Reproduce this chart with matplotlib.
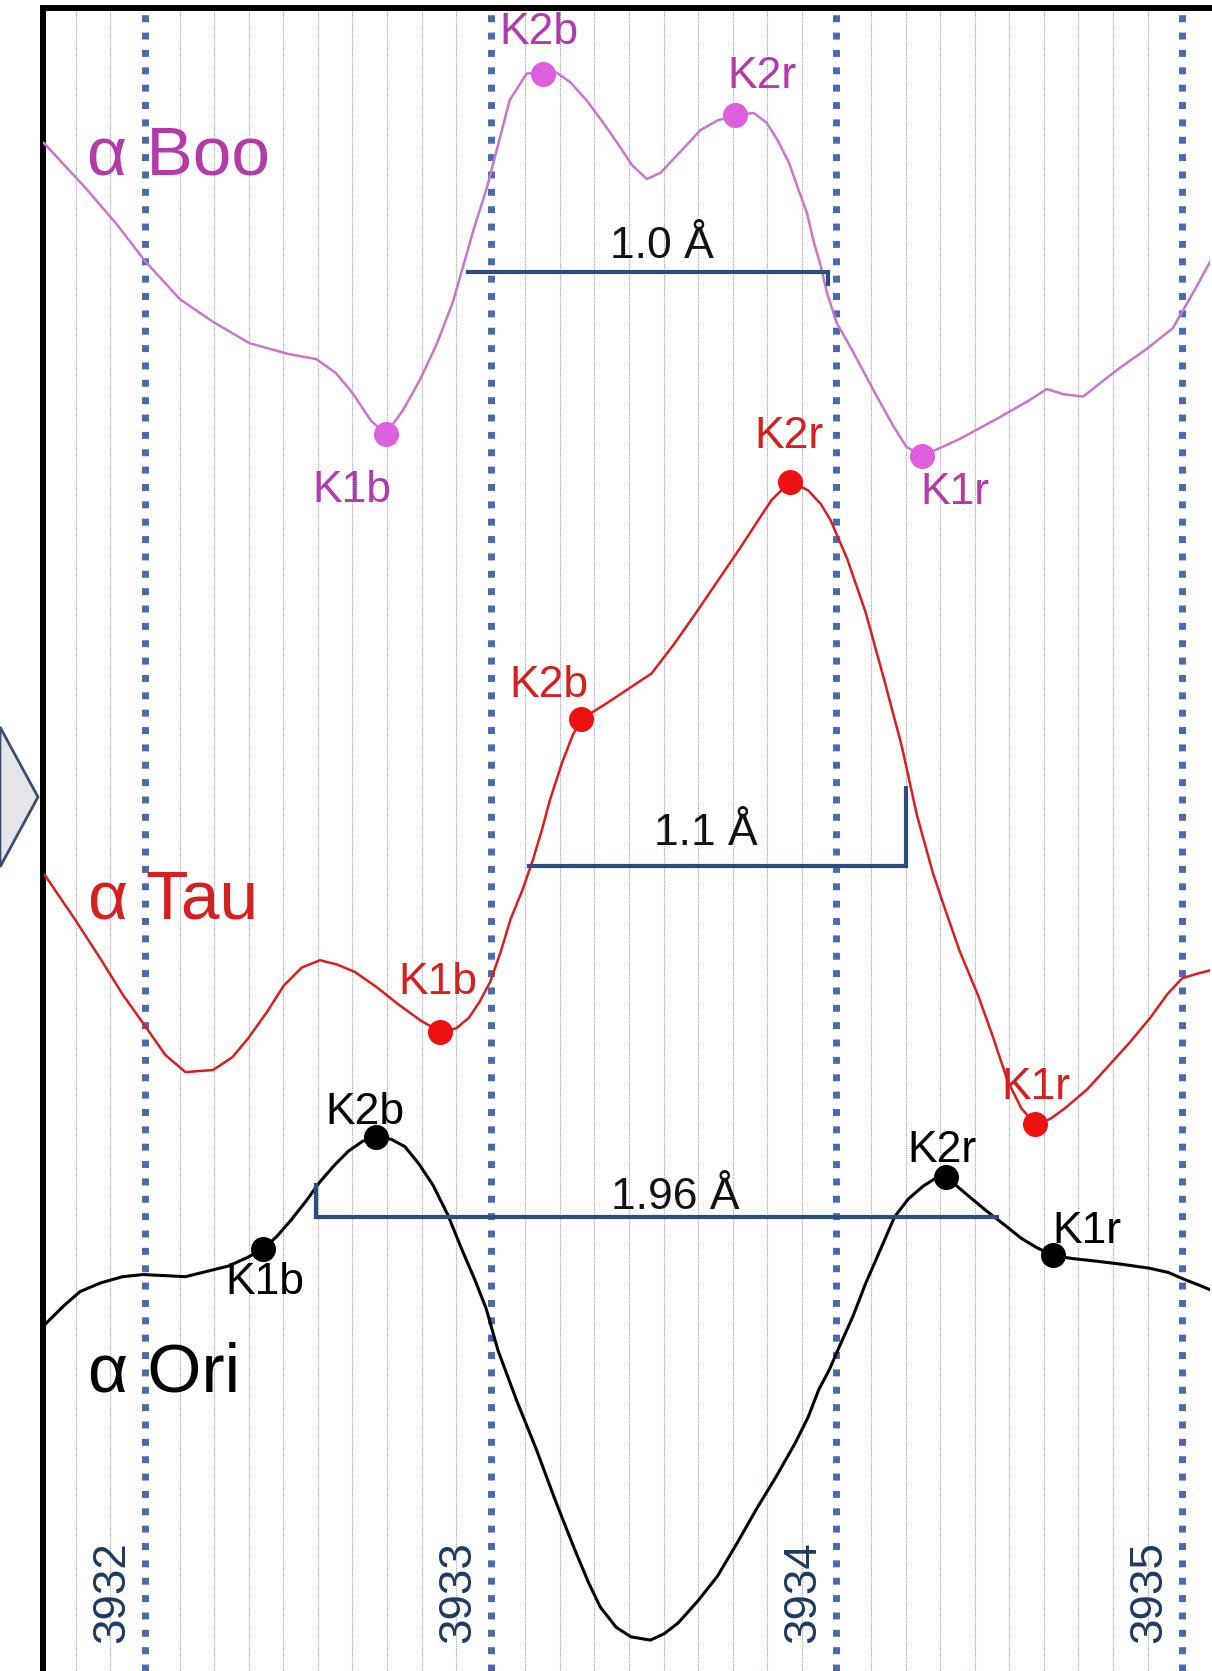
import numpy as np
import matplotlib.pyplot as plt
from matplotlib.patches import Polygon

plt.rcParams['font.family'] = ['Liberation Sans', 'DejaVu Sans']

# Ca II K line profiles, wavelength in Angstrom, flux in arbitrary (stacked) units
boo_wl = [3931.707, 3931.827, 3931.920, 3932.000, 3932.102, 3932.197, 3932.302, 3932.413,
          3932.496, 3932.552, 3932.601, 3932.654, 3932.697, 3932.746, 3932.796, 3932.845,
          3932.891, 3932.950, 3932.990, 3933.018, 3933.055, 3933.104, 3933.150, 3933.190,
          3933.230, 3933.277, 3933.323, 3933.366, 3933.409, 3933.452, 3933.492, 3933.526,
          3933.570, 3933.607, 3933.656, 3933.708, 3933.761, 3933.798, 3933.829, 3933.862,
          3933.887, 3933.915, 3933.933, 3933.955, 3933.973, 3934.001, 3934.048, 3934.112,
          3934.165, 3934.202, 3934.248, 3934.356, 3934.464, 3934.556, 3934.609, 3934.658,
          3934.714, 3934.812, 3934.895, 3934.973, 3935.003, 3935.040, 3935.087]
boo_flux = [143.4, 139.2, 135.7, 132.3, 128.7, 126.6, 124.6, 123.6, 123.1, 121.8,
            119.9, 117.3, 116.1, 118.3, 121.2, 124.6, 128.5, 135.2, 139.3, 142.8,
            147.4, 149.9, 150.0, 150.0, 149.1, 147.4, 145.4, 143.4, 141.3, 140.0,
            140.6, 141.8, 143.3, 144.6, 145.5, 146.0, 146.2, 145.3, 143.7, 141.6,
            139.3, 136.8, 134.3, 131.8, 129.3, 126.5, 123.8, 119.9, 116.8, 114.9,
            114.0, 115.6, 117.5, 119.2, 120.3, 119.8, 119.6, 122.1, 124.0, 126.0,
            127.7, 129.8, 132.6]

tau_wl = [3931.710, 3931.796, 3931.870, 3931.935, 3932.003, 3932.059, 3932.117, 3932.197,
          3932.253, 3932.299, 3932.352, 3932.401, 3932.453, 3932.506, 3932.555, 3932.607,
          3932.669, 3932.731, 3932.799, 3932.854, 3932.900, 3932.937, 3932.968, 3932.999,
          3933.030, 3933.058, 3933.092, 3933.122, 3933.147, 3933.172, 3933.206, 3933.237,
          3933.261, 3933.335, 3933.400, 3933.465, 3933.529, 3933.594, 3933.659, 3933.724,
          3933.770, 3933.813, 3933.866, 3933.918, 3933.955, 3933.983, 3934.032, 3934.085,
          3934.140, 3934.189, 3934.233, 3934.279, 3934.310, 3934.356, 3934.411, 3934.455,
          3934.495, 3934.535, 3934.575, 3934.618, 3934.661, 3934.726, 3934.785, 3934.849,
          3934.908, 3934.957, 3935.000, 3935.040, 3935.087]
tau_flux = [74.7, 70.6, 66.9, 63.5, 60.4, 57.8, 56.2, 56.4, 57.6, 59.4,
            61.8, 64.3, 66.0, 66.7, 66.3, 65.6, 64.2, 62.6, 61.0, 60.0,
            60.3, 61.3, 62.8, 64.7, 67.6, 70.6, 73.3, 76.1, 78.8, 81.8,
            85.2, 87.8, 89.3, 90.8, 92.2, 93.6, 96.3, 99.3, 102.4, 105.5,
            107.8, 109.9, 111.6, 110.8, 109.5, 108.0, 104.3, 99.3, 92.8, 86.8,
            80.3, 74.9, 71.9, 67.6, 63.3, 59.3, 55.4, 52.8, 51.3, 51.8,
            52.8, 54.6, 56.7, 59.0, 61.3, 63.5, 65.0, 65.4, 65.8]

ori_wl = [3931.710, 3931.766, 3931.812, 3931.870, 3931.935, 3931.994, 3932.059, 3932.117,
          3932.179, 3932.241, 3932.296, 3932.342, 3932.382, 3932.422, 3932.466, 3932.506,
          3932.549, 3932.589, 3932.629, 3932.669, 3932.712, 3932.752, 3932.792, 3932.833,
          3932.876, 3932.916, 3932.953, 3932.987, 3933.021, 3933.076, 3933.132, 3933.187,
          3933.243, 3933.283, 3933.317, 3933.363, 3933.406, 3933.462, 3933.502, 3933.542,
          3933.600, 3933.656, 3933.711, 3933.767, 3933.825, 3933.881, 3933.918, 3933.949,
          3933.980, 3934.004, 3934.048, 3934.085, 3934.128, 3934.168, 3934.208, 3934.251,
          3934.285, 3934.316, 3934.374, 3934.433, 3934.485, 3934.535, 3934.581, 3934.627,
          3934.683, 3934.741, 3934.818, 3934.905, 3934.960, 3935.010, 3935.050, 3935.087]
ori_flux = [32.5, 34.3, 35.6, 36.4, 37.0, 37.2, 37.1, 37.0, 37.5, 38.0,
            38.8, 39.6, 40.8, 42.3, 44.1, 45.9, 47.5, 48.8, 49.7, 50.1,
            49.9, 49.2, 47.6, 45.6, 42.8, 39.6, 36.8, 34.0, 30.1, 25.3,
            20.8, 16.0, 11.4, 8.3, 6.0, 4.1, 3.2, 2.9, 3.5, 4.5,
            6.6, 8.9, 11.9, 15.1, 18.2, 21.4, 23.8, 26.4, 28.3, 30.1,
            33.3, 36.4, 39.6, 42.6, 44.3, 45.5, 46.2, 46.4, 44.8, 43.2,
            41.9, 40.6, 39.7, 39.0, 38.7, 38.5, 38.2, 37.8, 37.4, 36.7,
            36.2, 35.7]

# marked features, in order K1b, K2b, K2r, K1r
feat_names = ['K1b', 'K2b', 'K2r', 'K1r']
boo_feat_wl = [3932.697, 3933.150, 3933.708, 3934.248]
boo_feat_flux = [116.1, 149.9, 146.0, 114.0]
boo_lab_wl = [3932.598, 3933.141, 3933.786, 3934.344]
boo_lab_flux = [110.8, 153.8, 149.6, 110.6]

tau_feat_wl = [3932.854, 3933.261, 3933.866, 3934.575]
tau_feat_flux = [60.0, 89.3, 111.6, 51.3]
tau_lab_wl = [3932.848, 3933.169, 3933.863, 3934.578]
tau_lab_flux = [64.6, 92.5, 115.8, 54.8]

ori_feat_wl = [3932.342, 3932.669, 3934.316, 3934.627]
ori_feat_flux = [39.6, 50.1, 46.4, 39.0]
ori_lab_wl = [3932.348, 3932.635, 3934.304, 3934.726]
ori_lab_flux = [36.5, 52.4, 48.8, 41.2]

# separation bars
bar_labels = ['1.0 Å', '1.1 Å', '1.96 Å']
bar_wl = [[3932.934, 3933.977, 3933.977],
          [3933.110, 3934.202, 3934.202],
          [3932.496, 3932.496, 3934.464]]
bar_flux = [[131.3, 131.3, 130.2],
            [75.5, 75.5, 82.9],
            [45.6, 42.6, 42.6]]
bar_lab_wl = [3933.496, 3933.622, 3933.533]
bar_lab_flux = [132.6, 77.5, 43.4]

wl_ticks = [3932, 3933, 3934, 3935]
wl_ticklabels = ['3932', '3933', '3934', '3935']

fig = plt.figure(figsize=(12.12, 16.71), dpi=100)
ax = fig.add_axes([0.03589, 0.0, 0.96205, 0.99551])
ax.set_xlim(3931.7064, 3935.0793)
ax.set_ylim(0, 156.1)

# grid: thin dotted every 0.1 A, thick blue dotted at whole Angstroms
ax.set_xticks(wl_ticks)
ax.set_xticks(np.arange(3931.8, 3935.05, 0.1), minor=True)
ax.set_yticks([])
ax.tick_params(which='both', length=0, labelbottom=False)
ax.set_axisbelow(True)
ax.grid(which='minor', axis='x', color='#95a0b4', lw=0.8, linestyle=(0, (1, 1)))
ax.grid(which='major', axis='x', color='#4a6aad', lw=5, linestyle=(0, (1, 1.5)))

for s in ['right', 'bottom']:
    ax.spines[s].set_visible(False)
for s in ['left', 'top']:
    ax.spines[s].set_linewidth(4.3)
    ax.spines[s].set_color('black')

stars = [
    (boo_wl, boo_flux, boo_feat_wl, boo_feat_flux, boo_lab_wl, boo_lab_flux,
     '#c776c9', '#dd5fdd', '#b23aa9', 1.8),
    (tau_wl, tau_flux, tau_feat_wl, tau_feat_flux, tau_lab_wl, tau_lab_flux,
     '#d81e1e', '#ee1111', '#d42020', 1.8),
    (ori_wl, ori_flux, ori_feat_wl, ori_feat_flux, ori_lab_wl, ori_lab_flux,
     'black', 'black', 'black', 2.2),
]
for wl, fl, fwl, ffl, lwl, lfl, lc, mc, tc, lw in stars:
    ax.plot(wl, fl, color=lc, lw=lw, zorder=3)
    ax.plot(fwl, ffl, 'o', color=mc, ms=17, zorder=4)
    for name, x, y in zip(feat_names, lwl, lfl):
        ax.text(x, y, name, color=tc, fontsize=32, ha='center', va='center', zorder=5)

ax.text(3931.833, 140.4, 'α Boo', color='#b23aa9', fontsize=50, ha='left', va='baseline')
ax.text(3931.835, 70.6, 'α Tau', color='#d42020', fontsize=50, ha='left', va='baseline')
ax.text(3931.835, 26.2, 'α Ori', color='black', fontsize=50, ha='left', va='baseline')

for bx, by, lab, tx, ty in zip(bar_wl, bar_flux, bar_labels, bar_lab_wl, bar_lab_flux):
    ax.plot(bx, by, color='#2e4d7c', lw=3, solid_joinstyle='miter', zorder=3)
    ax.text(tx, ty, lab, fontsize=32, ha='center', va='baseline', color='#111111', zorder=5)

for t, lab in zip(wl_ticks, wl_ticklabels):
    ax.text(t - 0.095, 7.4, lab, rotation=90, fontsize=33, color='#1f3a60',
            ha='center', va='center', zorder=5)

# slide arrow peeking in at the left edge
chev = Polygon([(0, 1 - 727 / 1671), (38 / 1212, 1 - 797 / 1671), (0, 1 - 867 / 1671)],
               closed=True, transform=fig.transFigure, facecolor='#e6e6ea',
               edgecolor='#3c4d6e', lw=2)
fig.add_artist(chev)

fig.savefig('out.png', dpi=100)
